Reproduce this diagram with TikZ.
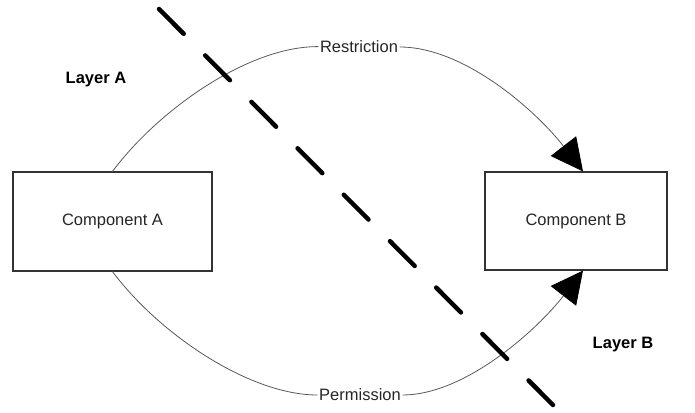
\documentclass[tikz,border=0pt]{standalone}
\usepackage{fontspec}
\setmainfont{Liberation Sans}
\usetikzlibrary{arrows.meta}
\begin{document}
\begin{tikzpicture}[x=1pt,y=-1pt,
  comp/.style={draw=black!80,line width=1.2pt,fill=white,inner sep=0pt,
    font=\fontsize{16.5}{18}\selectfont,text=black!85},
  lbl/.style={inner sep=1.5pt,font=\fontsize{16.5}{18}\selectfont,text=black!85},
  layer/.style={inner sep=0pt,font=\fontsize{16.5}{18}\selectfont\bfseries},
  conn/.style={draw=black!65,line width=0.8pt,
    -{Triangle[length=32pt,width=32pt,color=black]}},
  sep/.style={line width=4.5pt,line cap=round,dash pattern=on 35pt off 30.5pt}]
\useasboundingbox (0,0) rectangle (695,412);
\node[comp,minimum width=199pt,minimum height=99pt] (a) at (112.5,221.5) {Component A};
\node[comp,minimum width=182pt,minimum height=98pt] (b) at (576,221) {Component B};
\node[lbl] (r) at (359,47) {Restriction};
\node[lbl] (p) at (360,395) {Permission};
\node[layer] (la) at (96,80) {Layer A};
\node[layer] (lb) at (623,345) {Layer B};
\coordinate (bt) at ([xshift=7pt]b.north);
\coordinate (bb) at ([xshift=7pt]b.south);
\draw[conn] (a.north) .. controls (160,108) and (250,46) .. (r) .. controls (465,47) and (537,112) .. (bt);
\draw[conn] (a.south) .. controls (160,335) and (250,395) .. (p) .. controls (465,395) and (537,330) .. (bb);
\coordinate (s1) at (159,9);
\coordinate (s2) at (553,405);
\draw[sep] (s1) -- (s2);
\end{tikzpicture}
\end{document}
